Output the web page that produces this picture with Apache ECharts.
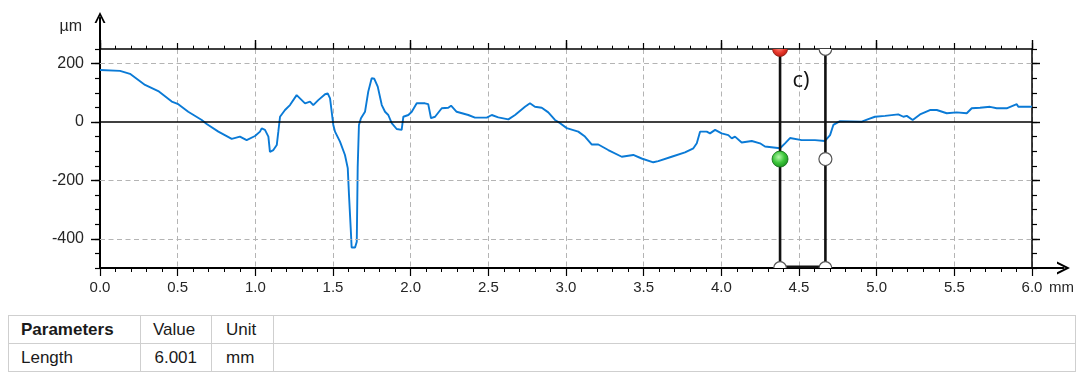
<!DOCTYPE html>
<html>
<head>
<meta charset="utf-8">
<script src="https://cdn.jsdelivr.net/npm/echarts@6/dist/echarts.min.js"></script>
<style>
html,body{margin:0;padding:0;background:#fff;}
#wrap{position:relative;width:1080px;height:372px;overflow:hidden;background:#fff;}
#chart{position:absolute;left:0;top:0;width:1080px;height:372px;}
#tbl{position:absolute;left:8px;top:315px;border-collapse:collapse;table-layout:fixed;width:1067px;
  font-family:"Liberation Sans",Arial,sans-serif;font-size:17px;color:#1a1a1a;background:#fff;}
#tbl td{border:1px solid #cfcfcf;height:27px;padding:0;white-space:nowrap;overflow:hidden;}
#tbl td.c0{padding-left:12px;}
#tbl td.c1h{padding-left:12px;}
#tbl td.c1{text-align:right;padding-right:14px;}
#tbl td.c2{padding-left:14px;}
#tbl tr.h td.c0{font-weight:bold;}
</style>
</head>
<body>
<div id="wrap">
  <div id="chart"></div>
  <table id="tbl"><colgroup><col style="width:132px"><col style="width:71px"><col style="width:62px"><col style="width:802px"></colgroup><tbody id="tbody"></tbody></table>
</div>
<script>
// ---- data ----
const distanceMm = [
  0.000, 0.129, 0.193, 0.290, 0.375, 0.462, 0.504, 0.568, 0.655, 0.687,
  0.762, 0.848, 0.901, 0.944, 0.998, 1.030, 1.041, 1.062, 1.084, 1.094,
  1.116, 1.138, 1.148, 1.159, 1.191, 1.223, 1.266, 1.277, 1.320, 1.352,
  1.373, 1.405, 1.449, 1.466, 1.481, 1.502, 1.513, 1.545, 1.577, 1.595,
  1.603, 1.614, 1.620, 1.642, 1.653, 1.659, 1.667, 1.680, 1.706, 1.727,
  1.749, 1.766, 1.788, 1.814, 1.835, 1.856, 1.878, 1.910, 1.942, 1.953,
  1.985, 2.007, 2.039, 2.071, 2.092, 2.113, 2.131, 2.157, 2.200, 2.242,
  2.260, 2.296, 2.371, 2.414, 2.490, 2.522, 2.564, 2.629, 2.672, 2.736,
  2.768, 2.800, 2.844, 2.886, 2.929, 2.962, 3.005, 3.079, 3.122, 3.165,
  3.208, 3.272, 3.359, 3.433, 3.487, 3.562, 3.594, 3.680, 3.766, 3.820,
  3.842, 3.863, 3.906, 3.927, 3.960, 4.002, 4.045, 4.067, 4.088, 4.131,
  4.196, 4.249, 4.281, 4.378, 4.410, 4.442, 4.517, 4.603, 4.667, 4.700,
  4.721, 4.764, 4.904, 4.946, 4.989, 5.054, 5.139, 5.172, 5.194, 5.232,
  5.279, 5.343, 5.387, 5.451, 5.515, 5.580, 5.612, 5.665, 5.730, 5.773,
  5.837, 5.902, 5.912, 5.987, 6.000
];
const heightUm = [
  178, 175, 165, 127, 106, 70, 61, 35, 7, -7,
  -33, -58, -50, -62, -48, -33, -22, -27, -50, -102,
  -96, -79, -33, 18, 41, 58, 92, 92, 64, 70,
  58, 75, 95, 98, 81, -10, -33, -67, -113, -158,
  -250, -364, -430, -430, -410, -155, -10, 13, 35, 104,
  150, 148, 121, 58, 35, 24, -4, -24, -27, 18,
  24, 35, 64, 64, 64, 61, 13, 18, 47, 49,
  56, 35, 24, 15, 15, 24, 16, 9, 24, 52,
  64, 52, 49, 33, 7, -4, -21, -33, -50, -77,
  -77, -96, -119, -113, -125, -138, -134, -119, -104, -90,
  -73, -33, -33, -39, -27, -39, -45, -56, -50, -70,
  -65, -73, -84, -90, -73, -55, -62, -62, -65, -45,
  -10, 3, 1, 10, 18, 21, 26, 18, 21, 7,
  26, 41, 41, 30, 33, 30, 47, 49, 52, 47,
  47, 61, 52, 52, 53
];
const yLabelValues = [-400, -200, 0, 200];   // labelled y ticks
const yGridValues = [200, -200, -400];       // dashed horizontal grid
const xRange = [0, 6];
const yRange = [-500, 250];
const cursorMm = [4.378, 4.670];
const cursorLevelUm = -127;
const annotationText = ['c)'];
const annotationAt = [4.458, 140];
const tableHeader = ['Parameters', 'Value', 'Unit'];
const tableRow = ['Length', '6.001', 'mm'];

// ---- table ----
(function () {
  const tb = document.getElementById('tbody');
  const mk = (cells, header) => {
    const tr = document.createElement('tr');
    if (header) tr.className = 'h';
    const cls = header ? ['c0', 'c1h', 'c2', 'c3'] : ['c0', 'c1', 'c2', 'c3'];
    cells.concat(['']).forEach((t, i) => {
      const td = document.createElement('td');
      td.className = cls[i];
      td.textContent = t;
      tr.appendChild(td);
    });
    tb.appendChild(tr);
  };
  mk(tableHeader, true);
  mk(tableRow, false);
})();

// ---- chart ----
const chart = echarts.init(document.getElementById('chart'), null, { renderer: 'canvas' });
const FONT = '"Liberation Sans", Arial, sans-serif';
const LBL = '#262626';
const chevron = 'path://M0,100 L50,0 L100,100 L82,100 L50,34 L18,100 Z';
const lineData = distanceMm.map((x, i) => [x, heightUm[i]]);

const noLabel = { show: false };
const noSplit = { show: false };

function renderCursors(params, api) {
  const x1 = api.value(0), x2 = api.value(1), lv = api.value(2);
  const p1t = api.coord([x1, yRange[1]]), p1b = api.coord([x1, yRange[0]]);
  const p2t = api.coord([x2, yRange[1]]), p2b = api.coord([x2, yRange[0]]);
  const p1m = api.coord([x1, lv]), p2m = api.coord([x2, lv]);
  const lp = api.coord(annotationAt);
  const white = { fill: '#fff', stroke: '#555', lineWidth: 1.2 };
  const red = {
    fill: { type: 'radial', x: 0.45, y: 0.4, r: 0.65, colorStops: [
      { offset: 0, color: '#ff8f80' }, { offset: 0.55, color: '#e8362a' }, { offset: 1, color: '#b01a10' }] },
    stroke: '#8a1a10', lineWidth: 0.8
  };
  const green = {
    fill: { type: 'radial', x: 0.42, y: 0.38, r: 0.7, colorStops: [
      { offset: 0, color: '#b8f7ae' }, { offset: 0.5, color: '#3cc63a' }, { offset: 1, color: '#14861a' }] },
    stroke: '#0d6a12', lineWidth: 0.8
  };
  return {
    type: 'group',
    children: [
      { type: 'line', shape: { x1: p1t[0], y1: p1t[1], x2: p1b[0], y2: p1b[1] }, style: { stroke: '#111', lineWidth: 2.6 } },
      { type: 'line', shape: { x1: p2t[0], y1: p2t[1], x2: p2b[0], y2: p2b[1] }, style: { stroke: '#111', lineWidth: 2.6 } },
      { type: 'line', shape: { x1: p1b[0], y1: p1b[1] - 1, x2: p2b[0], y2: p2b[1] - 1 }, style: { stroke: '#111', lineWidth: 3 } },
      { type: 'circle', shape: { cx: p1t[0], cy: p1t[1], r: 7.5 }, style: red },
      { type: 'circle', shape: { cx: p2t[0], cy: p2t[1], r: 6.3 }, style: white },
      { type: 'circle', shape: { cx: p1b[0], cy: p1b[1], r: 6.3 }, style: white },
      { type: 'circle', shape: { cx: p2b[0], cy: p2b[1], r: 6.3 }, style: white },
      { type: 'circle', shape: { cx: p1m[0], cy: p1m[1], r: 8 }, style: green },
      { type: 'circle', shape: { cx: p2m[0], cy: p2m[1], r: 6.5 }, style: white },
      { type: 'text', x: lp[0], y: lp[1], style: { text: annotationText[0], fill: '#111', fontSize: 22, fontFamily: '"Open Sans", "Noto Sans", sans-serif', align: 'left', verticalAlign: 'middle' } }
    ]
  };
}

const option = {
  animation: false,
  backgroundColor: 'transparent',
  grid: [
    { left: 100, right: 48, top: 49, bottom: 104, containLabel: false },
    { left: 100, right: 16.5, top: 17.5, bottom: 104, containLabel: false }
  ],
  xAxis: [
    { // bottom axis with labels
      gridIndex: 0, type: 'value', position: 'bottom', min: xRange[0], max: xRange[1], interval: 0.5,
      axisLine: { show: true, onZero: false, lineStyle: { color: '#000', width: 2 } },
      axisTick: { show: true, length: 8, lineStyle: { color: '#000', width: 1.2 } },
      minorTick: { show: true, splitNumber: 5, length: 4, lineStyle: { color: '#000', width: 1 } },
      axisLabel: { show: true, margin: 12, color: LBL, fontSize: 15, fontFamily: FONT, formatter: v => v.toFixed(1) },
      splitLine: { show: true, lineStyle: { type: [5, 3.5], color: '#b4b4b4', width: 1 } },
      name: 'mm', nameLocation: 'end', nameGap: 17,
      nameTextStyle: { color: LBL, fontSize: 15, fontFamily: FONT, align: 'left', verticalAlign: 'top', padding: [12, 0, 0, 0] }
    },
    { // top axis, half-mm and minor ticks
      gridIndex: 0, type: 'value', position: 'top', min: xRange[0], max: xRange[1], interval: 0.5,
      axisLine: { show: true, onZero: false, lineStyle: { color: '#000', width: 1.5 } },
      axisTick: { show: true, length: 6, lineStyle: { color: '#000', width: 1.2 } },
      minorTick: { show: true, splitNumber: 5, length: 3.3, lineStyle: { color: '#000', width: 1 } },
      axisLabel: noLabel, splitLine: noSplit
    },
    { // top axis, whole-mm ticks
      gridIndex: 0, type: 'value', position: 'top', min: xRange[0], max: xRange[1], interval: 1,
      axisLine: { show: false, onZero: false },
      axisTick: { show: true, length: 9, lineStyle: { color: '#000', width: 1.4 } },
      axisLabel: noLabel, splitLine: noSplit
    },
    { // arrow axis
      gridIndex: 1, type: 'value', position: 'bottom', min: 0, max: 1,
      axisLine: { show: true, onZero: false, symbol: ['none', chevron], symbolSize: [14, 13], lineStyle: { color: '#000', width: 2 } },
      axisTick: { show: false }, axisLabel: noLabel, splitLine: noSplit
    }
  ],
  yAxis: [
    { // left, minor ticks every 50 and labels
      gridIndex: 0, type: 'value', position: 'left', min: yRange[0], max: yRange[1], interval: 50,
      axisLine: { show: true, onZero: false, lineStyle: { color: '#000', width: 2 } },
      axisTick: { show: true, length: 5, lineStyle: { color: '#000', width: 1.2 } },
      axisLabel: { show: true, margin: 16, color: LBL, fontSize: 16, fontFamily: FONT,
        formatter: v => (yLabelValues.indexOf(v) >= 0 ? String(v) : '') },
      splitLine: noSplit,
      name: 'µm', nameLocation: 'end', nameGap: 22,
      nameTextStyle: { color: LBL, fontSize: 16, fontFamily: FONT, align: 'right', verticalAlign: 'middle', padding: [0, 18, 0, 0] }
    },
    { // left, long ticks at labelled values
      gridIndex: 0, type: 'value', position: 'left', min: yRange[0], max: yRange[1],
      axisLine: { show: false, onZero: false },
      axisTick: { show: true, length: 9, customValues: yLabelValues, lineStyle: { color: '#000', width: 1.4 } },
      axisLabel: noLabel, splitLine: noSplit
    },
    { // right, minor ticks
      gridIndex: 0, type: 'value', position: 'right', min: yRange[0], max: yRange[1], interval: 50,
      axisLine: { show: true, onZero: false, lineStyle: { color: '#000', width: 1.5 } },
      axisTick: { show: true, length: 5, lineStyle: { color: '#000', width: 1.2 } },
      axisLabel: noLabel, splitLine: noSplit
    },
    { // right, long ticks
      gridIndex: 0, type: 'value', position: 'right', min: yRange[0], max: yRange[1],
      axisLine: { show: false, onZero: false },
      axisTick: { show: true, length: 8, customValues: yLabelValues, lineStyle: { color: '#000', width: 1.4 } },
      axisLabel: noLabel, splitLine: noSplit
    },
    { // arrow axis
      gridIndex: 1, type: 'value', position: 'left', min: 0, max: 1,
      axisLine: { show: true, onZero: false, symbol: ['none', chevron], symbolSize: [11, 15], lineStyle: { color: '#000', width: 2 } },
      axisTick: { show: false }, axisLabel: noLabel, splitLine: noSplit
    }
  ],
  series: [
    { // horizontal grid + zero line
      type: 'line', xAxisIndex: 0, yAxisIndex: 0, data: [], z: 1, silent: true,
      markLine: {
        silent: true, symbol: ['none', 'none'], label: { show: false }, animation: false,
        data: yGridValues.map(v => ({ yAxis: v, lineStyle: { type: [5, 3.5], color: '#b4b4b4', width: 1 } }))
          .concat([{ yAxis: 0, lineStyle: { type: 'solid', color: '#000', width: 1.5 } }])
      }
    },
    {
      type: 'line', xAxisIndex: 0, yAxisIndex: 0, data: lineData, z: 3,
      showSymbol: false, symbol: 'none', smooth: false,
      lineStyle: { color: '#0a7ad6', width: 1.9 }
    },
    {
      type: 'custom', xAxisIndex: 0, yAxisIndex: 0, z: 5, clip: true, silent: true,
      data: [[cursorMm[0], cursorMm[1], cursorLevelUm]],
      renderItem: renderCursors
    }
  ]
};
chart.setOption(option);
</script>
</body>
</html>
